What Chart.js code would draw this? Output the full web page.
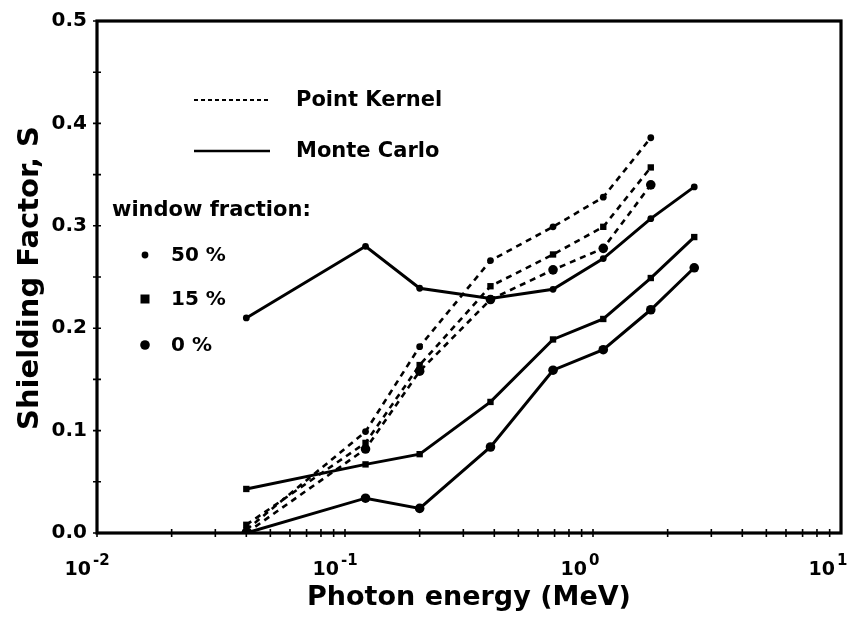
<!DOCTYPE html>
<html><head><meta charset="utf-8">
<script src="https://cdn.jsdelivr.net/npm/chart.js@4"></script>
<style>html,body{margin:0;padding:0;background:#fff}canvas{display:block}</style>
</head><body>
<canvas id="c" width="854" height="618"></canvas>
<script>
// ---- data ----
const energies = [0.04, 0.121, 0.2, 0.386, 0.69, 1.1, 1.71, 2.56];
const pk50 = [0.003, 0.099, 0.182, 0.266, 0.299, 0.328, 0.386];
const pk15 = [0.008, 0.088, 0.164, 0.241, 0.272, 0.299, 0.357];
const pk0  = [0.000, 0.082, 0.158, 0.228, 0.257, 0.278, 0.340];
const mc50 = [0.210, 0.280, 0.239, 0.229, 0.238, 0.268, 0.307, 0.338];
const mc15 = [0.043, 0.067, 0.077, 0.128, 0.189, 0.209, 0.249, 0.289];
const mc0  = [0.000, 0.034, 0.024, 0.084, 0.159, 0.179, 0.218, 0.259];
const yTickValues = [0, 0.1, 0.2, 0.3, 0.4, 0.5];
const xTickValues = [0.01, 0.1, 1, 10];
const xTickBase = '10';
const xTickExponents = ['-2', '-1', '0', '1'];
const xTitle = 'Photon energy (MeV)';
const yTitle = 'Shielding Factor, S';
const methodLabels = ['Point Kernel', 'Monte Carlo'];
const fractionHeader = 'window fraction:';
const fractionLabels = ['50 %', '15 %', '0 %'];

const FONT = "'DejaVu Sans'";
const pts = arr => arr.map((v, i) => ({x: energies[i], y: v}));
const markers = [
  {pointStyle: 'circle', radius: 3.4},
  {pointStyle: 'rect', radius: 4.5},
  {pointStyle: 'circle', radius: 4.8}
];
function ds(arr, dashed, m) {
  return {
    data: pts(arr), borderColor: '#000', backgroundColor: '#000',
    borderWidth: dashed ? 2.6 : 3, borderDash: dashed ? [6, 5] : [],
    pointStyle: markers[m].pointStyle, pointRadius: markers[m].radius,
    pointBorderWidth: 0, tension: 0, fill: false
  };
}

const decorPlugin = {
  id: 'decor',
  afterDraw(chart) {
    const {ctx, chartArea: a, scales: {x, y}} = chart;
    ctx.save();
    ctx.strokeStyle = '#000'; ctx.fillStyle = '#000';
    ctx.lineWidth = 3.2;
    ctx.strokeRect(a.left, a.top, a.right - a.left, a.bottom - a.top);
    ctx.lineWidth = 1.6;
    ctx.beginPath();
    for (let k = 0; k <= 10; k++) {
      const py = y.getPixelForValue(k * 0.05);
      ctx.moveTo(a.left - 4, py); ctx.lineTo(a.left + 4, py);
    }
    for (let d = -2; d <= 0; d++) {
      for (let m = 1; m <= 9; m++) {
        const px = x.getPixelForValue(m * Math.pow(10, d));
        ctx.moveTo(px, a.bottom - 4); ctx.lineTo(px, a.bottom + 4);
      }
    }
    ctx.stroke();
    // x tick labels (base + superscript exponent)
    ctx.textBaseline = 'middle';
    xTickValues.forEach((v, i) => {
      const px = x.getPixelForValue(v);
      ctx.font = `bold 19px ${FONT}`;
      ctx.textAlign = 'right';
      ctx.fillText(xTickBase, px - 6, 570);
      ctx.font = `bold 15px ${FONT}`;
      ctx.textAlign = 'left';
      ctx.fillText(xTickExponents[i], px - 4, 561);
    });
    // axis titles
    ctx.font = `bold 27px ${FONT}`;
    ctx.textAlign = 'center'; ctx.textBaseline = 'middle';
    ctx.fillText(xTitle, (a.left + a.right) / 2, 598);
    ctx.save();
    ctx.translate(30, 278);
    ctx.rotate(-Math.PI / 2);
    ctx.font = `bold 29px ${FONT}`;
    ctx.fillText(yTitle, 0, 0);
    ctx.restore();
    // legend
    ctx.font = `bold 21px ${FONT}`;
    ctx.textAlign = 'left';
    ctx.lineWidth = 2;
    ctx.setLineDash([4, 3]);
    ctx.beginPath(); ctx.moveTo(194, 100); ctx.lineTo(268, 100); ctx.stroke();
    ctx.setLineDash([]);
    ctx.lineWidth = 2.6;
    ctx.beginPath(); ctx.moveTo(194, 151); ctx.lineTo(270, 151); ctx.stroke();
    ctx.fillText(methodLabels[0], 296, 101);
    ctx.fillText(methodLabels[1], 296, 152);
    ctx.fillText(fractionHeader, 112, 211);
    const rows = [255, 299, 345];
    ctx.font = `bold 20px ${FONT}`;
    fractionLabels.forEach((lab, i) => {
      const r = markers[i];
      ctx.beginPath();
      if (r.pointStyle === 'rect') ctx.rect(145 - r.radius, rows[i] - r.radius, r.radius * 2, r.radius * 2);
      else ctx.arc(145, rows[i], r.radius, 0, Math.PI * 2);
      ctx.fill();
      ctx.fillText(lab, 171, rows[i] + 1);
    });
    ctx.restore();
  }
};

new Chart(document.getElementById('c'), {
  type: 'line',
  data: {
    datasets: [ds(pk50, true, 0), ds(pk15, true, 1), ds(pk0, true, 2),
               ds(mc50, false, 0), ds(mc15, false, 1), ds(mc0, false, 2)]
  },
  options: {
    responsive: false, animation: false, devicePixelRatio: 1,
    layout: {padding: {left: 0, right: 13, top: 21, bottom: 0}},
    plugins: {legend: {display: false}, tooltip: {enabled: false}},
    scales: {
      x: {
        type: 'logarithmic', min: 0.01, max: 10,
        grid: {display: false}, border: {display: false},
        afterBuildTicks: s => { s.ticks = xTickValues.map(v => ({value: v})); },
        afterFit: s => { s.height = 85; s.paddingLeft = 0; s.paddingRight = 0; },
        ticks: {display: false}
      },
      y: {
        min: 0, max: 0.5,
        grid: {display: false}, border: {display: false},
        afterBuildTicks: s => { s.ticks = yTickValues.map(v => ({value: v})); },
        afterFit: s => { s.width = 97; s.paddingTop = 0; s.paddingBottom = 0; },
        ticks: {
          padding: 2, color: '#000',
          font: {family: FONT, size: 20, weight: 'bold'},
          callback: v => Number(v).toFixed(1)
        }
      }
    }
  },
  plugins: [decorPlugin]
});
</script>
</body></html>
